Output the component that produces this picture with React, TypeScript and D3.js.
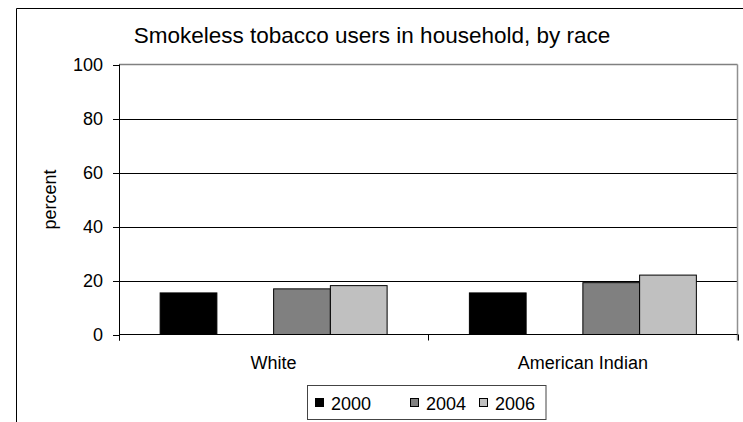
import React from "react";
import * as d3 from "d3";

const categories = ["White", "American Indian"];
const seriesNames = ["2000", "", "2004", "2006"];
const seriesColors = ["#000000", "#ffffff", "#808080", "#c0c0c0"];
const whiteValues: (number | null)[] = [15.4, null, 16.9, 18.1];
const americanIndianValues: (number | null)[] = [15.4, null, 19.2, 22.0];
const yTicks = [0, 20, 40, 60, 80, 100];
const title = "Smokeless tobacco users in household, by race";
const yLabel = "percent";

const W = 743;
const H = 422;
const FONT = "'Liberation Sans', Arial, sans-serif";

export default function App() {
  const left = 119;
  const right = 737.5;
  const top = 64.5;
  const bottom = 334.5;
  const values = [whiteValues, americanIndianValues];

  const x = d3.scaleBand<string>().domain(categories).range([left, right]).padding(0);
  const xs = d3
    .scaleBand<string>()
    .domain(seriesNames.map((_, i) => String(i)))
    .range([0, x.bandwidth()])
    .paddingInner(0)
    .paddingOuter(0.725);
  const y = d3.scaleLinear().domain([0, 100]).range([bottom, top]);

  const legendX0 = 307.5;
  const legendY0 = 385.5;
  const legendSquareX = [315, 362, 410, 479];

  return (
    <svg
      width={W}
      height={H}
      style={{ position: "absolute", left: 0, top: 0, background: "#fff" }}
      fontFamily={FONT}
    >
      <rect x={0} y={0} width={W} height={H} fill="#fff" />
      {/* outer chart frame */}
      <line x1={16.5} y1={8.5} x2={W + 5} y2={8.5} stroke="#000" strokeWidth={1} />
      <line x1={16.5} y1={8.5} x2={16.5} y2={H + 5} stroke="#000" strokeWidth={1} />

      {/* title */}
      <text x={372} y={43} textAnchor="middle" fontSize={22.5} fill="#000">
        {title}
      </text>

      {/* gridlines */}
      {yTicks
        .filter((t) => t !== 0 && t !== 100)
        .map((t) => (
          <line key={t} x1={left} x2={right} y1={Math.round(y(t)) + 0.5} y2={Math.round(y(t)) + 0.5} stroke="#000" strokeWidth={1} />
        ))}
      {/* plot area border (gray top & right) */}
      <line x1={left} x2={right} y1={top} y2={top} stroke="#808080" strokeWidth={1.5} />
      <line x1={right} x2={right} y1={top} y2={bottom + 6} stroke="#909090" strokeWidth={1.5} />

      {/* bars */}
      {categories.map((c, ci) =>
        values[ci].map((v, si) =>
          v == null ? null : (
            <rect
              key={c + si}
              x={(x(c) as number) + (xs(String(si)) as number)}
              y={y(v)}
              width={xs.bandwidth()}
              height={bottom - y(v)}
              fill={seriesColors[si]}
              stroke="#000"
              strokeWidth={1}
            />
          )
        )
      )}

      {/* y axis */}
      <line x1={left + 0.5} x2={left + 0.5} y1={top} y2={bottom + 6} stroke="#000" strokeWidth={1} />
      {yTicks.map((t) => (
        <g key={t}>
          <line x1={left - 6} x2={left} y1={Math.round(y(t)) + 0.5} y2={Math.round(y(t)) + 0.5} stroke="#000" strokeWidth={1} />
          <text x={103} y={y(t) + 6.5} textAnchor="end" fontSize={18} fill="#000">
            {t}
          </text>
        </g>
      ))}
      <text
        transform={`translate(56,${(top + bottom) / 2}) rotate(-90)`}
        textAnchor="middle"
        fontSize={18}
        fill="#000"
      >
        {yLabel}
      </text>

      {/* x axis */}
      <line x1={left} x2={right} y1={bottom} y2={bottom} stroke="#000" strokeWidth={1} />
      {[...categories.map((c) => x(c) as number), right].map((px, i) => (
        <line key={i} x1={Math.round(px) + 0.5} x2={Math.round(px) + 0.5} y1={bottom} y2={bottom + 6} stroke="#000" strokeWidth={1} />
      ))}
      {categories.map((c) => (
        <text key={c} x={(x(c) as number) + x.bandwidth() / 2} y={368.5} textAnchor="middle" fontSize={18} fill="#000">
          {c}
        </text>
      ))}

      {/* legend */}
      <rect x={legendX0} y={legendY0} width={238.5} height={34} fill="#fff" stroke="#444" strokeWidth={1} />
      {seriesNames.map((s, i) =>
        s === "" ? null : (
          <g key={i}>
            <rect x={legendSquareX[i] + 0.5} y={398.5} width={8} height={8} fill={seriesColors[i]} stroke="#000" strokeWidth={1} />
            <text x={legendSquareX[i] + 16} y={409.5} fontSize={18} fill="#000">
              {s}
            </text>
          </g>
        )
      )}
    </svg>
  );
}
